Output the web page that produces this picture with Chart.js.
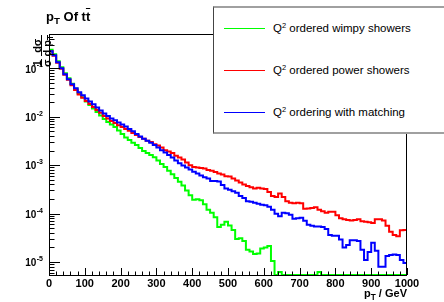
<!DOCTYPE html>
<html lang="en">
<head>
<meta charset="UTF-8">
<title>pT of ttbar</title>
<script src="https://cdn.jsdelivr.net/npm/chart.js"></script>
<style>
  body { margin: 0; background: #fff; font-family: "Liberation Sans", Arial, sans-serif; }
  #wrap { position: relative; width: 444px; height: 302px; overflow: hidden; }
  #plot { position: absolute; left: 0; top: 0; }
  sub, sup { line-height: 0; }
  #title { position: absolute; left: 46px; top: 10px; font-weight: bold; font-size: 13px; line-height: 13px; white-space: nowrap; }
  #title sub { font-size: 75%; vertical-align: -3px; }
  .bar { text-decoration: overline; }
  #xtitle { position: absolute; right: 37px; top: 288px; font-weight: bold; font-size: 11px; line-height: 11px; white-space: nowrap; }
  #xtitle sub { font-size: 75%; vertical-align: -3px; }
  #ytitle { position: absolute; left: 42px; top: 51px; transform: translate(-50%, -50%) rotate(-90deg);
            font-weight: bold; font-size: 11px; white-space: nowrap; display: flex; align-items: center; gap: 3px; }
  .frac { display: inline-flex; flex-direction: column; align-items: center; line-height: 8px; }
  .frac .den { border-top: 1px solid #000; padding-top: 1px; }
  .frac sub { font-size: 75%; vertical-align: -2px; }
  #legend { position: absolute; left: 213px; top: 6px; width: 240px; height: 124px; background: #fff;
            border-top: 2px solid #a0a0a0; border-bottom: 2px solid #a0a0a0; border-left: 1px solid #444; }
  .entry { position: absolute; left: 10px; height: 14px; display: flex; align-items: center; font-size: 11.5px; white-space: nowrap; }
  .swatch { width: 41px; height: 1px; margin-right: 8px; }
  .entry sup { font-size: 65%; vertical-align: 4px; }
</style>
</head>
<body>
<div id="wrap">
  <canvas id="plot" width="444" height="302"></canvas>
  <div id="title">p<sub>T</sub> Of t<span class="bar">t</span></div>
  <div id="ytitle">
    <span class="frac"><span>1</span><span class="den">&sigma;</span></span>
    <span class="frac"><span>d&sigma;</span><span class="den">d p<sub>T</sub></span></span>
  </div>
  <div id="xtitle">p<sub>T</sub> / GeV</div>
  <div id="legend">
    <div class="entry" style="top:13px"><span class="swatch" style="background:#00ff00"></span><span>Q<sup>2</sup> ordered wimpy showers</span></div>
    <div class="entry" style="top:55px"><span class="swatch" style="background:#ff0000"></span><span>Q<sup>2</sup> ordered power showers</span></div>
    <div class="entry" style="top:97px"><span class="swatch" style="background:#0000ff"></span><span>Q<sup>2</sup> ordering with matching</span></div>
  </div>
</div>
<script>
    // 100 bins of 10 GeV, values 1/sigma dsigma/dpT
    const binWidth = 10;
    const binLow = Array.from({ length: 100 }, (_, i) => i * binWidth);

    const wimpy = [
        0.242, 0.195, 0.140, 0.105, 0.0788, 0.0621, 0.0477, 0.0376, 0.0303, 0.0251,
        0.0207, 0.0175, 0.0148, 0.0125, 0.0106, 0.0090, 0.0078, 0.0069, 0.0061, 0.0052,
        0.0044, 0.0037, 0.0033, 0.0029, 0.0026, 0.00225, 0.00195, 0.00178, 0.00161, 0.00146,
        0.00124, 0.00105, 9.1e-4, 7.7e-4, 6.5e-4, 5.4e-4, 4.55e-4, 3.8e-4, 3.0e-4, 2.4e-4,
        1.93e-4, 1.98e-4, 1.88e-4, 1.55e-4, 1.20e-4, 1.04e-4, 8.4e-5, 5.3e-5, 5.9e-5, 6.75e-5,
        5.7e-5, 4.6e-5, 3.0e-5, 3.1e-5, 2.7e-5, 1.8e-5, 1.65e-5, 1.46e-5, 1.5e-5, 1.9e-5,
        2.0e-5, 2.15e-5, 1.05e-5, 0, 6.2e-6, 0, 0, 0, 0, 0,
        0, 0, 0, 0, 0, 6.2e-6, 0, 0, 0, 0,
        0, 0, 0, 0, 0, 0, 0, 0, 0, 0,
        0, 0, 0, 0, 0, 0, 0, 0, 0, 0
    ];
    const power = [
        0.225, 0.182, 0.130, 0.0977, 0.0733, 0.0578, 0.0444, 0.0358, 0.0289, 0.0245,
        0.0212, 0.0184, 0.0159, 0.0138, 0.0120, 0.0104, 0.0092, 0.0082, 0.0074, 0.0067,
        0.0061, 0.0056, 0.0051, 0.0046, 0.0042, 0.0038, 0.0035, 0.0032, 0.0030, 0.0027,
        0.00254, 0.0023, 0.00204, 0.00191, 0.00178, 0.00157, 0.00143, 0.00130, 0.00113, 0.00100,
        9.1e-4, 8.9e-4, 8.7e-4, 8.5e-4, 7.9e-4, 7.7e-4, 7.2e-4, 6.7e-4, 6.4e-4, 5.9e-4,
        5.8e-4, 5.3e-4, 4.8e-4, 4.4e-4, 4.0e-4, 3.7e-4, 3.5e-4, 3.3e-4, 3.4e-4, 3.3e-4,
        3.2e-4, 2.8e-4, 2.3e-4, 2.2e-4, 2.6e-4, 2.2e-4, 1.8e-4, 1.67e-4, 1.63e-4, 1.67e-4,
        1.63e-4, 1.25e-4, 1.28e-4, 1.31e-4, 1.35e-4, 1.20e-4, 1.11e-4, 1.04e-4, 1.09e-4, 1.09e-4,
        9.2e-5, 8.0e-5, 7.6e-5, 7.4e-5, 7.2e-5, 7.4e-5, 7.6e-5, 6.9e-5, 6.75e-5, 6.6e-5,
        6.4e-5, 7.6e-5, 7.6e-5, 7.2e-5, 5.6e-5, 4.2e-5, 3.6e-5, 3.4e-5, 4.5e-5, 4.6e-5
    ];
    const matching = [
        0.225, 0.186, 0.133, 0.100, 0.0751, 0.0592, 0.0466, 0.0385, 0.0318, 0.0276,
        0.0239, 0.0207, 0.0180, 0.0155, 0.0135, 0.0117, 0.0104, 0.0092, 0.0084, 0.0076,
        0.0069, 0.0063, 0.0056, 0.0050, 0.0044, 0.0039, 0.0035, 0.0032, 0.0029, 0.0026,
        0.0023, 0.00204, 0.00182, 0.00161, 0.00143, 0.00124, 0.00110, 0.00098, 0.00089, 0.00081,
        7.3e-4, 6.7e-4, 6.1e-4, 5.6e-4, 5.3e-4, 4.7e-4, 4.7e-4, 4.6e-4, 3.9e-4, 3.3e-4,
        3.1e-4, 2.9e-4, 2.7e-4, 2.3e-4, 2.1e-4, 1.8e-4, 1.75e-4, 1.67e-4, 1.59e-4, 1.52e-4,
        1.48e-4, 1.38e-4, 1.20e-4, 9.9e-5, 8.8e-5, 1.04e-4, 1.01e-4, 9.4e-5, 7.8e-5, 8.0e-5,
        8.2e-5, 7.1e-5, 5.9e-5, 5.6e-5, 5.4e-5, 5.4e-5, 5.3e-5, 4.8e-5, 3.6e-5, 3.5e-5,
        3.5e-5, 2.9e-5, 2.0e-5, 2.25e-5, 2.8e-5, 2.8e-5, 2.7e-5, 1.8e-5, 1.1e-5, 1.6e-5,
        2.5e-5, 1.7e-5, 8.0e-6, 8.0e-6, 1.33e-5, 1.40e-5, 1.43e-5, 1.40e-5, 1.10e-5, 9.5e-6
    ];

    const xTicks = [0, 100, 200, 300, 400, 500, 600, 700, 800, 900, 1000];
    const xTickLabels = ['0', '100', '200', '300', '400', '500', '600', '700', '800', '900', '1000'];
    const yTicks = [1e-5, 1e-4, 1e-3, 1e-2, 1e-1];
    const yTickExps = ['-5', '-4', '-3', '-2', '-1'];
    const yMin = 5.39e-6, yMax = 0.51;

    // empty bins sit on the frame bottom like ROOT draws them
    function histPoints(values) {
        const pts = values.map((v, i) => ({ x: binLow[i], y: v > 0 ? v : yMin }));
        pts.push({ x: binLow[values.length - 1] + binWidth, y: pts[pts.length - 1].y });
        return pts;
    }

    const rootAxes = {
        id: 'rootAxes',
        afterDraw(chart) {
            const { ctx, chartArea: a, scales: { x, y } } = chart;
            ctx.save();
            ctx.strokeStyle = '#000';
            ctx.lineWidth = 1;
            ctx.strokeRect(a.left + 0.5, a.top + 0.5, a.right - a.left - 1, a.bottom - a.top);

            ctx.beginPath();
            yTicks.forEach(v => {
                const py = Math.round(y.getPixelForValue(v)) + 0.5;
                ctx.moveTo(a.left, py); ctx.lineTo(a.left + 11, py);
            });
            for (let d = 1e-6; d < 1; d *= 10) {
                for (let m = 2; m <= 9; m++) {
                    const v = m * d;
                    if (v < yMin || v > yMax) continue;
                    const py = Math.round(y.getPixelForValue(v)) + 0.5;
                    ctx.moveTo(a.left, py); ctx.lineTo(a.left + 5.5, py);
                }
            }
            for (let v = 0; v <= 1000; v += 20) {
                const px = Math.round(x.getPixelForValue(v)) + 0.5;
                const len = v % 100 === 0 ? 7 : 3.5;
                ctx.moveTo(px, a.bottom); ctx.lineTo(px, a.bottom - len);
            }
            ctx.stroke();

            ctx.fillStyle = '#000';
            ctx.textBaseline = 'middle';
            ctx.textAlign = 'right';
            yTicks.forEach((v, i) => {
                const py = y.getPixelForValue(v);
                ctx.font = 'bold 7px "Liberation Sans", Arial';
                const ew = ctx.measureText(yTickExps[i]).width;
                ctx.fillText(yTickExps[i], 43, py - 3);
                ctx.font = 'bold 10px "Liberation Sans", Arial';
                ctx.fillText('10', 43 - ew - 0.5, py + 1.5);
            });
            ctx.font = 'bold 11px "Liberation Sans", Arial';
            ctx.textAlign = 'center';
            xTicks.forEach((v, i) => ctx.fillText(xTickLabels[i], x.getPixelForValue(v), 284));
            ctx.restore();
        }
    };

    const lineStyle = { stepped: true, borderWidth: 2, pointRadius: 0, fill: false, tension: 0 };

    new Chart(document.getElementById('plot'), {
        type: 'line',
        data: {
            datasets: [
                { label: 'Q² ordering with matching', data: histPoints(matching), borderColor: '#0000ff', ...lineStyle },
                { label: 'Q² ordered power showers', data: histPoints(power), borderColor: '#ff0000', ...lineStyle },
                { label: 'Q² ordered wimpy showers', data: histPoints(wimpy), borderColor: '#00ff00', ...lineStyle }
            ]
        },
        options: {
            responsive: false,
            devicePixelRatio: 1,
            animation: false,
            layout: { padding: { left: 49, right: 37, top: 34, bottom: 27 } },
            scales: {
                x: { type: 'linear', min: 0, max: 1000, display: false },
                y: { type: 'logarithmic', min: yMin, max: yMax, display: false }
            },
            plugins: { legend: { display: false }, tooltip: { enabled: false } }
        },
        plugins: [rootAxes]
    });
</script>
</body>
</html>
